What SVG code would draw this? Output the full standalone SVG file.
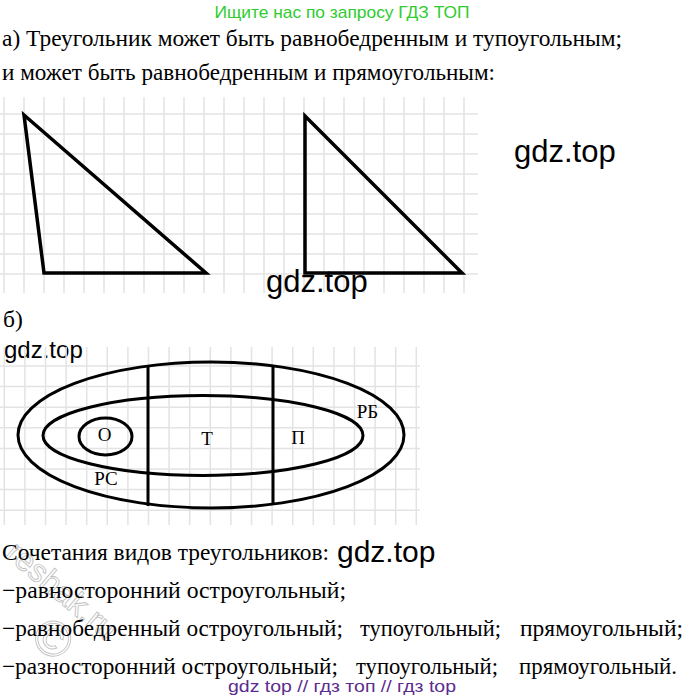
<svg xmlns="http://www.w3.org/2000/svg" width="684" height="700" viewBox="0 0 684 700">
<style>
.grid{stroke:#e3e3e3;stroke-width:1.5;fill:none}
.shape{stroke:#000;stroke-width:3.5;fill:none;stroke-linejoin:miter}
.vs{stroke:#000;stroke-width:3;fill:none}
.serif{font-family:"Liberation Serif","Times New Roman",serif;fill:#000}
.body{font-size:23.5px}
.lbl{font-size:19px;text-anchor:middle}
.wm{font-family:"Liberation Sans",Arial,sans-serif;fill:#000}
</style>
<rect width="684" height="700" fill="#fff"/>
<g id="watermark-reshak" opacity="0.6">
<text x="0" y="0" transform="translate(4,556) rotate(40)" font-family="Liberation Sans,Arial,sans-serif" font-size="32" fill="none" stroke="#999" stroke-width="0.9">reshak.ru</text>
<text x="0" y="0" transform="translate(28,640) rotate(40)" font-family="Liberation Sans,Arial,sans-serif" font-size="50" fill="none" stroke="#999" stroke-width="0.9">©</text>
</g>
<g id="header">
<text x="342" y="18" text-anchor="middle" font-family="Liberation Sans,Arial,sans-serif" font-size="17" fill="#2ecc2e" textLength="255" lengthAdjust="spacingAndGlyphs">Ищите нас по запросу ГДЗ ТОП</text>
<text class="serif body" x="2" y="46" textLength="620" lengthAdjust="spacingAndGlyphs">а) Треугольник может быть равнобедренным и тупоугольным;</text>
<text class="serif body" x="2" y="80" textLength="493" lengthAdjust="spacingAndGlyphs">и может быть равнобедренным и прямоугольным:</text>
</g>
<g id="grid-a">
<path class="grid" d="M4 97V293M24 97V293M44 97V293M64 97V293M84 97V293M104 97V293M124 97V293M144 97V293M164 97V293M184 97V293M204 97V293M224 97V293M244 97V293M264 97V293M284 97V293M304 97V293M324 97V293M344 97V293M364 97V293M384 97V293M404 97V293M424 97V293M444 97V293M464 97V293"/>
<path class="grid" d="M0 114H478M0 134H478M0 154H478M0 174H478M0 194H478M0 214H478M0 234H478M0 254H478M0 274H478"/>
</g>
<g id="triangle-obtuse">
<polygon class="shape" points="24,115 44,273 206,273"/>
</g>
<g id="triangle-right">
<polygon class="shape" points="305,116 305,273 462,273"/>
</g>
<g id="wm-gdz">
<text class="wm" x="514" y="162" font-size="31">gdz.top</text>
<text class="wm" x="266" y="292" font-size="31">gdz.top</text>
<text class="wm" x="4" y="358" font-size="24">gdz.top</text>
</g>
<text class="serif body" x="3" y="327">б)</text>
<g id="grid-b">
<path class="grid" d="M4.3 347V525M24.9 347V525M45.5 347V525M66.1 347V525M86.7 347V525M107.3 347V525M127.9 347V525M148.5 347V525M169.1 347V525M189.7 347V525M210.3 347V525M230.9 347V525M251.5 347V525M272.1 347V525M292.7 347V525M313.3 347V525M333.9 347V525M354.5 347V525M375.1 347V525M395.7 347V525M416.3 347V525"/>
<path class="grid" d="M0 366H420M0 386.6H420M0 407.2H420M0 427.8H420M0 448.4H420M0 469H420M0 489.6H420M0 510.2H420"/>
</g>
<g id="set-RB">
<ellipse class="vs" cx="211" cy="435" rx="193" ry="73"/>
<text class="serif lbl" x="367.5" y="418">РБ</text>
</g>
<g id="set-RS">
<ellipse class="vs" cx="203" cy="435.5" rx="160" ry="40"/>
<text class="serif lbl" x="106" y="485">РС</text>
</g>
<g id="set-O">
<ellipse class="vs" cx="105.5" cy="436.5" rx="26.5" ry="18.5"/>
<text class="serif lbl" x="104.5" y="441">О</text>
</g>
<g id="region-T">
<text class="serif lbl" x="207" y="445">Т</text>
</g>
<g id="region-P">
<text class="serif lbl" x="298" y="444">П</text>
</g>
<g id="connectors">
<line class="vs" x1="148" y1="365" x2="148" y2="506"/>
<line class="vs" x1="273" y1="367" x2="273" y2="505"/>
</g>
<g id="combinations">
<text class="serif body" x="2" y="560" textLength="327" lengthAdjust="spacingAndGlyphs">Сочетания видов треугольников:</text>
<text class="wm" x="337" y="562" font-size="30">gdz.top</text>
<text class="serif body" x="2" y="598" textLength="344" lengthAdjust="spacingAndGlyphs">−равносторонний остроугольный;</text>
<text class="serif body" x="2" y="636" textLength="341" lengthAdjust="spacingAndGlyphs">−равнобедренный остроугольный;</text>
<text class="serif body" x="360" y="636" textLength="141" lengthAdjust="spacingAndGlyphs">тупоугольный;</text>
<text class="serif body" x="520" y="636" textLength="163" lengthAdjust="spacingAndGlyphs">прямоугольный;</text>
<text class="serif body" x="2" y="674" textLength="336" lengthAdjust="spacingAndGlyphs">−разносторонний остроугольный;</text>
<text class="serif body" x="356" y="674" textLength="142" lengthAdjust="spacingAndGlyphs">тупоугольный;</text>
<text class="serif body" x="519" y="674" textLength="158" lengthAdjust="spacingAndGlyphs">прямоугольный.</text>
</g>
<g id="footer">
<text x="342" y="692" text-anchor="middle" font-family="Liberation Sans,Arial,sans-serif" font-size="16" fill="#5b2c8f" textLength="228" lengthAdjust="spacingAndGlyphs">gdz top  //  гдз топ  //  гдз top</text>
</g>
</svg>
